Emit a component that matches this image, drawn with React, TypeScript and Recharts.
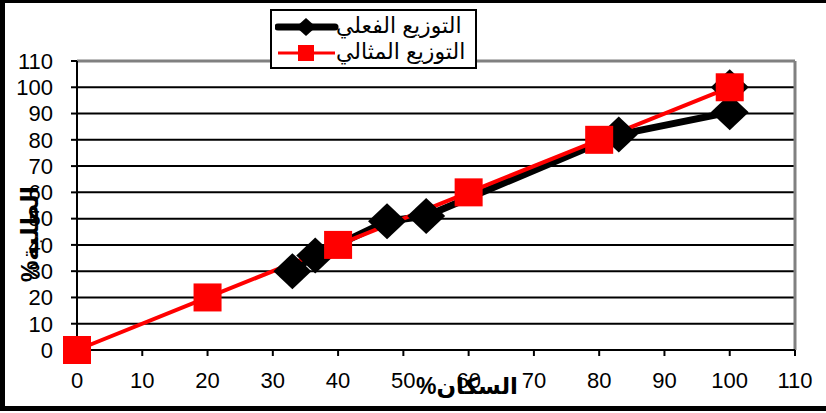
import React from 'react';
import { LineChart, Line, XAxis, YAxis, CartesianGrid, ReferenceLine } from 'recharts';

const xTicks = [0, 10, 20, 30, 40, 50, 60, 70, 80, 90, 100, 110];
const yTicks = [0, 10, 20, 30, 40, 50, 60, 70, 80, 90, 100, 110];
const gridValues = [10, 20, 30, 40, 50, 60, 70, 80, 90, 100];

const actualName = 'التوزيع الفعلي';
const idealName = 'التوزيع المثالي';
const xTitle = 'السكان%';
const yTitle = 'الطلبة%';

const actualX = [33, 36.5, 47.5, 53.5, 83, 100, 100];
const actualY = [30, 36, 49, 51, 82, 90.5, 100];
const idealX = [0, 20, 40, 60, 80, 100];
const idealY = [0, 20, 40, 60, 80, 100];

const actualData = actualX.map((x, i) => ({ x, y: actualY[i] }));
const idealData = idealX.map((x, i) => ({ x, y: idealY[i] }));

const FONT = '"Liberation Sans", Arial, "DejaVu Sans", sans-serif';

const Diamond = (props: any) => {
  const { cx, cy, index } = props;
  if (cx == null || cy == null) return <g key={`d${index}`} />;
  const hw = 19;
  const hh = 18;
  return (
    <polygon
      key={`d${index}`}
      points={`${cx},${cy - hh} ${cx + hw},${cy} ${cx},${cy + hh} ${cx - hw},${cy}`}
      fill="#000"
    />
  );
};

const Square = (props: any) => {
  const { cx, cy, index } = props;
  if (cx == null || cy == null) return <g key={`s${index}`} />;
  const h = 14;
  return <rect key={`s${index}`} x={cx - h} y={cy - h} width={2 * h} height={2 * h} fill="#ff0000" />;
};

export default function App() {
  return (
    <div style={{ position: 'absolute', left: 0, top: 0, width: 826, height: 413, background: '#fff', fontFamily: FONT }}>
      <LineChart width={826} height={413} margin={{ top: 61, right: 31, bottom: 0, left: 0 }}>
        <CartesianGrid horizontal vertical={false} horizontalValues={gridValues} stroke="#000" strokeWidth={2} strokeOpacity={1} />
        <XAxis
          type="number"
          dataKey="x"
          domain={[0, 110]}
          ticks={xTicks}
          interval={0}
          height={63}
          tickSize={6}
          tickMargin={16}
          axisLine={{ stroke: '#000', strokeWidth: 2 }}
          tickLine={{ stroke: '#000', strokeWidth: 2 }}
          tick={{ fill: '#000', fontSize: 22, fontFamily: FONT }}
        />
        <YAxis
          type="number"
          dataKey="y"
          domain={[0, 110]}
          ticks={yTicks}
          interval={0}
          width={77}
          tickSize={6}
          tickMargin={18}
          axisLine={{ stroke: '#000', strokeWidth: 2 }}
          tickLine={{ stroke: '#000', strokeWidth: 2 }}
          tick={{ fill: '#000', fontSize: 22, fontFamily: FONT }}
        />
        <ReferenceLine y={110} stroke="#808080" strokeWidth={3} ifOverflow="visible" />
        <ReferenceLine x={110} stroke="#808080" strokeWidth={3} ifOverflow="visible" />
        <Line
          data={actualData}
          dataKey="y"
          name={actualName}
          type="linear"
          stroke="#000"
          strokeWidth={7}
          dot={Diamond}
          activeDot={false}
          isAnimationActive={false}
        />
        <Line
          data={idealData}
          dataKey="y"
          name={idealName}
          type="linear"
          stroke="#ff0000"
          strokeWidth={4}
          dot={Square}
          activeDot={false}
          isAnimationActive={false}
        />
      </LineChart>

      {/* axis titles */}
      <div
        style={{
          position: 'absolute',
          left: 467,
          top: 386,
          transform: 'translate(-50%, -50%)',
          fontSize: 23,
          fontWeight: 'bold',
          whiteSpace: 'nowrap',
          direction: 'rtl',
          color: '#000',
        }}
      >
        {xTitle}
      </div>
      <div
        style={{
          position: 'absolute',
          left: 30,
          top: 234,
          transform: 'translate(-50%, -50%) rotate(-90deg)',
          fontSize: 24,
          fontWeight: 'bold',
          whiteSpace: 'nowrap',
          direction: 'rtl',
          color: '#000',
        }}
      >
        {yTitle}
      </div>

      {/* legend */}
      <div
        style={{
          position: 'absolute',
          left: 270,
          top: 9,
          width: 203,
          height: 56,
          border: '2px solid #000',
          background: '#fff',
        }}
      >
        <svg width={64} height={56} style={{ position: 'absolute', left: 3, top: 0 }}>
          <line x1={3} y1={16} x2={60} y2={16} stroke="#000" strokeWidth={7} strokeLinecap="round" />
          <polygon points="31,7 41,16 31,25 21,16" fill="#000" />
          <line x1={3} y1={42} x2={60} y2={42} stroke="#ff0000" strokeWidth={3} />
          <rect x={23} y={34} width={16} height={16} fill="#ff0000" />
        </svg>
        <div style={{ position: 'absolute', left: 64, top: 1, fontSize: 22, lineHeight: '28px', whiteSpace: 'nowrap', color: '#000' }}>
          {actualName}
        </div>
        <div style={{ position: 'absolute', left: 64, top: 27, fontSize: 22, lineHeight: '28px', whiteSpace: 'nowrap', color: '#000' }}>
          {idealName}
        </div>
      </div>

      {/* outer frame */}
      <div
        style={{
          position: 'absolute',
          left: 0,
          top: 0,
          width: 826,
          height: 411,
          boxSizing: 'border-box',
          borderLeft: '5px solid #000',
          borderTop: '3px solid #000',
          borderBottom: '5px solid #000',
          pointerEvents: 'none',
        }}
      />
    </div>
  );
}
